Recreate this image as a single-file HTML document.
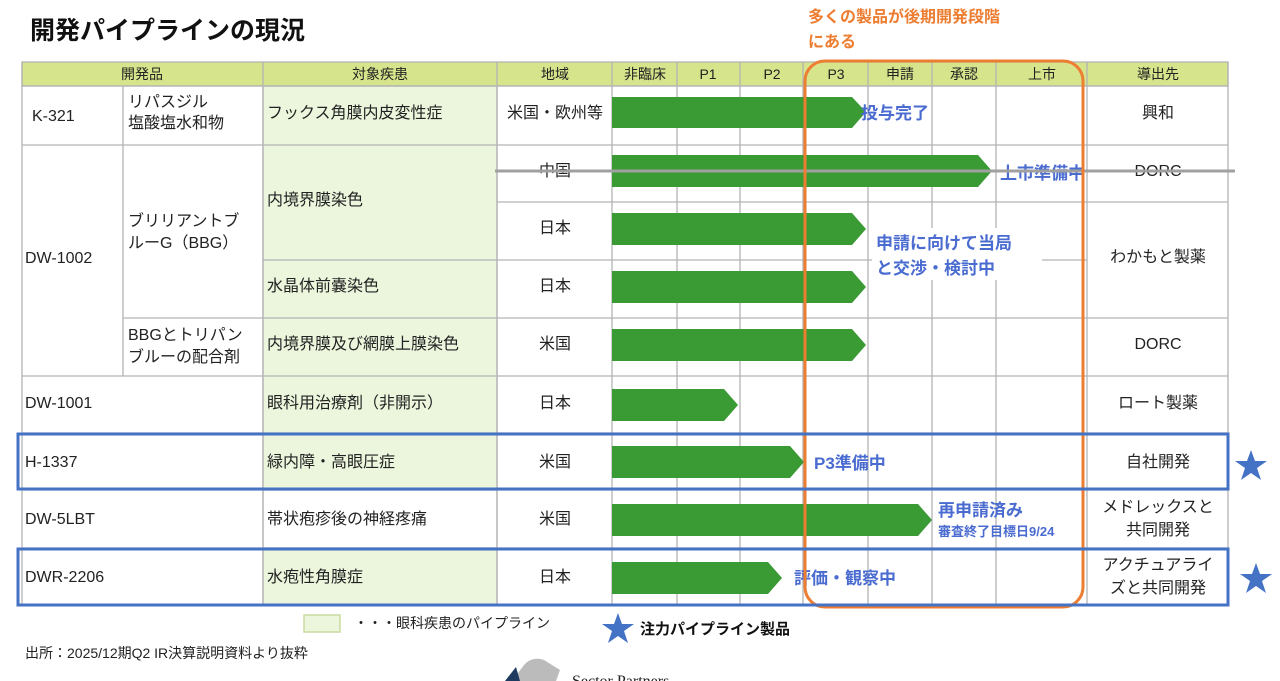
<!DOCTYPE html>
<html><head><meta charset="utf-8"><style>
html,body{margin:0;padding:0;background:#fff;width:1280px;height:681px;overflow:hidden}
svg{display:block}
text{font-family:"Liberation Sans","Noto Sans CJK JP",sans-serif;fill:#222}
.c text{font-size:16px}
.h text{font-size:14px}
.b text{font-weight:bold;fill:#4a6bd0;font-size:17px}
</style></head><body>
<svg width="1280" height="681" viewBox="0 0 1280 681">
<text x="30" y="39" style="font-size:25px;font-weight:bold;fill:#111">開発パイプラインの現況</text>
<text x="808" y="22" style="font-size:16px;font-weight:bold;fill:#ed7d31">多くの製品が後期開発段階</text>
<text x="808" y="47" style="font-size:16px;font-weight:bold;fill:#ed7d31">にある</text>

<g stroke="#b4b4b4" stroke-width="1.3">
<rect x="22" y="62" width="1206" height="24" fill="#d6e48c"/>
<rect x="263" y="86" width="234" height="404" fill="#ebf6dc"/>
<rect x="263" y="548" width="234" height="57" fill="#ebf6dc"/>
<rect x="263" y="490" width="234" height="58" fill="#fff"/>
<line x1="22" y1="86" x2="1228" y2="86"/>
<line x1="22" y1="145" x2="1228" y2="145"/>
<line x1="497" y1="202" x2="1228" y2="202"/>
<line x1="263" y1="260" x2="1087" y2="260"/>
<line x1="123" y1="318" x2="1228" y2="318"/>
<line x1="22" y1="376" x2="1228" y2="376"/>
<line x1="22" y1="433" x2="1228" y2="433"/>
<line x1="22" y1="490" x2="1228" y2="490"/>
<line x1="22" y1="548" x2="1228" y2="548"/>
<line x1="22" y1="605" x2="1228" y2="605"/>
<line x1="22" y1="62" x2="22" y2="605"/>
<line x1="123" y1="86" x2="123" y2="376"/>
<line x1="263" y1="62" x2="263" y2="605"/>
<line x1="497" y1="62" x2="497" y2="605"/>
<line x1="612" y1="62" x2="612" y2="605"/>
<line x1="677" y1="62" x2="677" y2="605"/>
<line x1="740" y1="62" x2="740" y2="605"/>
<line x1="803" y1="62" x2="803" y2="605"/>
<line x1="868" y1="62" x2="868" y2="605"/>
<line x1="932" y1="62" x2="932" y2="605"/>
<line x1="996" y1="62" x2="996" y2="605"/>
<line x1="1087" y1="62" x2="1087" y2="605"/>
<line x1="1228" y1="62" x2="1228" y2="605"/>
</g>

<g class="h" text-anchor="middle">
<text x="142" y="79">開発品</text><text x="380" y="79">対象疾患</text><text x="555" y="79">地域</text>
<text x="645" y="79">非臨床</text><text x="708" y="79">P1</text><text x="772" y="79">P2</text><text x="836" y="79">P3</text>
<text x="900" y="79">申請</text><text x="964" y="79">承認</text><text x="1042" y="79">上市</text><text x="1158" y="79">導出先</text>
</g>

<g class="c">
<text x="32" y="121">K-321</text>
<text x="128" y="107">リパスジル</text><text x="128" y="128">塩酸塩水和物</text>
<text x="267" y="118">フックス角膜内皮変性症</text>
<text x="25" y="263">DW-1002</text>
<text x="128" y="226">ブリリアントブ</text><text x="128" y="248">ルーG（BBG）</text>
<text x="128" y="340">BBGとトリパン</text><text x="128" y="362">ブルーの配合剤</text>
<text x="267" y="205">内境界膜染色</text>
<text x="267" y="291">水晶体前嚢染色</text>
<text x="267" y="349">内境界膜及び網膜上膜染色</text>
<text x="25" y="408">DW-1001</text><text x="267" y="408">眼科用治療剤（非開示）</text>
<text x="25" y="467">H-1337</text><text x="267" y="467">緑内障・高眼圧症</text>
<text x="25" y="524">DW-5LBT</text><text x="267" y="524">帯状疱疹後の神経疼痛</text>
<text x="25" y="582">DWR-2206</text><text x="267" y="582">水疱性角膜症</text>
</g>
<g class="c" text-anchor="middle">
<text x="555" y="118">米国・欧州等</text>
<text x="555" y="176">中国</text><text x="555" y="233">日本</text><text x="555" y="291">日本</text><text x="555" y="349">米国</text>
<text x="555" y="408">日本</text><text x="555" y="467">米国</text><text x="555" y="524">米国</text><text x="555" y="582">日本</text>
<text x="1158" y="118">興和</text><text x="1158" y="176">DORC</text><text x="1158" y="262">わかもと製薬</text><text x="1158" y="349">DORC</text>
<text x="1158" y="408">ロート製薬</text><text x="1158" y="467">自社開発</text>
<text x="1158" y="512">メドレックスと</text><text x="1158" y="535">共同開発</text>
<text x="1158" y="570">アクチュアライ</text><text x="1158" y="593">ズと共同開発</text>
</g>

<g fill="#3a9a34">
<polygon points="612,97 852,97 866,112 852,128 612,128"/>
<polygon points="612,155 978,155 992,171 978,187 612,187"/>
<polygon points="612,213 852,213 866,229 852,245 612,245"/>
<polygon points="612,271 852,271 866,287 852,303 612,303"/>
<polygon points="612,329 852,329 866,345 852,361 612,361"/>
<polygon points="612,389 724,389 738,405 724,421 612,421"/>
<polygon points="612,446 790,446 804,462 790,478 612,478"/>
<polygon points="612,504 918,504 932,520 918,536 612,536"/>
<polygon points="612,562 768,562 782,578 768,594 612,594"/>
</g>

<rect x="872" y="228" width="170" height="52" fill="#fff"/>
<g class="b">
<text x="861" y="119">投与完了</text>
<text x="1000" y="179">上市準備中</text>
<text x="876" y="249">申請に向けて当局</text>
<text x="876" y="274">と交渉・検討中</text>
<text x="814" y="469">P3準備中</text>
<text x="938" y="516">再申請済み</text>
<text x="938" y="536" style="font-size:13px">審査終了目標日9/24</text>
<text x="794" y="584">評価・観察中</text>
</g>

<line x1="495" y1="171" x2="1235" y2="171" stroke="#a0a0a0" stroke-width="3"/>
<rect x="805" y="61" width="278" height="546" rx="20" fill="none" stroke="#ed7d31" stroke-width="3"/>
<rect x="18" y="434" width="1210" height="55" fill="none" stroke="#4472c4" stroke-width="3"/>
<rect x="18" y="549" width="1210" height="56" fill="none" stroke="#4472c4" stroke-width="3"/>

<g fill="#4472c4">
<polygon points="1251,450 1255,461 1267,461 1257,468 1261,480 1251,473 1241,480 1245,468 1235,461 1247,461"/>
<polygon points="1256,563 1260,574 1272,574 1262,581 1266,593 1256,586 1246,593 1250,581 1240,574 1252,574"/>
<polygon points="618,613 622,624 634,624 624,631 628,643 618,636 608,643 612,631 602,624 614,624"/>
</g>

<rect x="304" y="615" width="36" height="17" fill="#ebf6dc" stroke="#c8dca0" stroke-width="1.5"/>
<text x="354" y="628" style="font-size:14px">・・・眼科疾患のパイプライン</text>
<text x="640" y="634" style="font-size:15px;font-weight:bold;fill:#111">注力パイプライン製品</text>
<text x="25" y="658" style="font-size:14px">出所：2025/12期Q2 IR決算説明資料より抜粋</text>

<path d="M512,681 L524,665 Q532,656 544,660 L560,670 L556,681 Z" fill="#bbb"/>
<path d="M505,681 L516,667 L520,681 Z" fill="#1f3a5f"/>
<text x="572" y="686" style="font-size:16px;font-family:'Liberation Serif',serif">Sector Partners</text>
</svg>
</body></html>
